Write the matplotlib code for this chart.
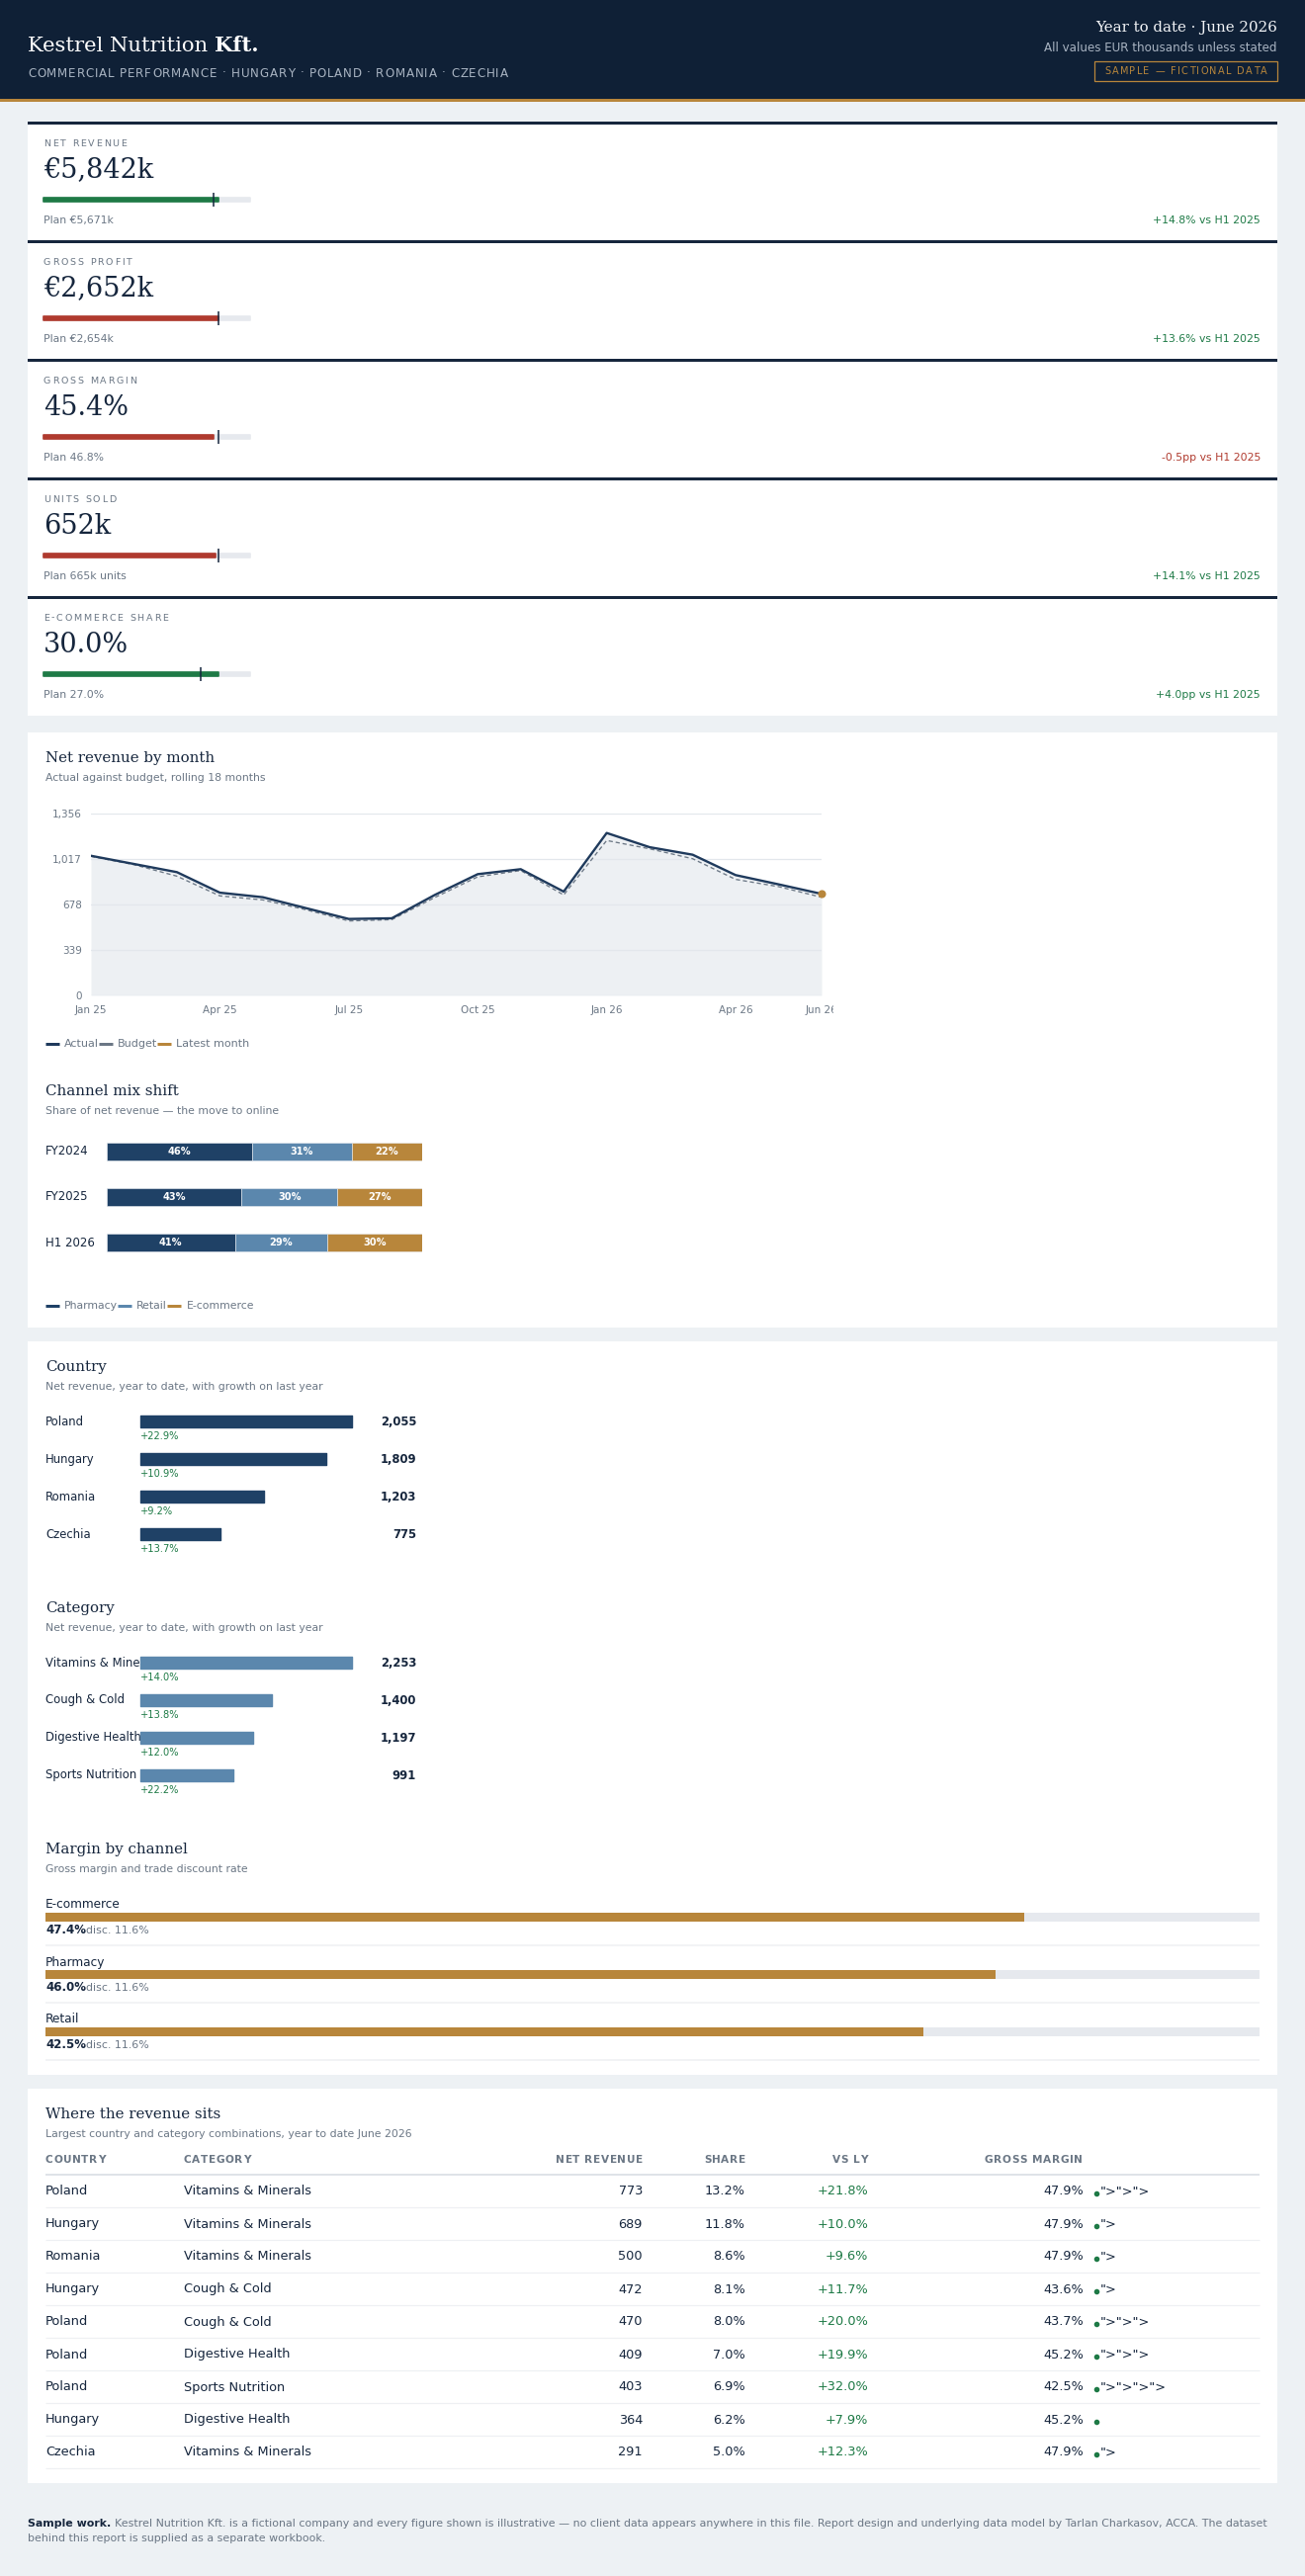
import matplotlib
matplotlib.use('Agg')
import numpy as np
import matplotlib.pyplot as plt
from matplotlib.patches import Rectangle
from matplotlib.lines import Line2D
from matplotlib.ft2font import FT2Font
from matplotlib.font_manager import findfont, FontProperties
from matplotlib.transforms import Bbox, TransformedBbox

# ---------------- data ----------------
kpi_labels = ["NET REVENUE", "GROSS PROFIT", "GROSS MARGIN", "UNITS SOLD", "E-COMMERCE SHARE"]
kpi_value_text = ["€5,842k", "€2,652k", "45.4%", "652k", "30.0%"]
kpi_actual = [5842, 2652, 45.4, 652, 30.0]
kpi_plan = [5671, 2654, 46.8, 665, 27.0]
kpi_plan_text = ["Plan €5,671k", "Plan €2,654k", "Plan 46.8%", "Plan 665k units", "Plan 27.0%"]
kpi_delta_text = ["+14.8% vs H1 2025", "+13.6% vs H1 2025", "-0.5pp vs H1 2025",
                  "+14.1% vs H1 2025", "+4.0pp vs H1 2025"]

months = ["Jan 25", "Feb 25", "Mar 25", "Apr 25", "May 25", "Jun 25", "Jul 25", "Aug 25", "Sep 25",
          "Oct 25", "Nov 25", "Dec 25", "Jan 26", "Feb 26", "Mar 26", "Apr 26", "May 26", "Jun 26"]
actual = [1041, 980, 919, 766, 732, 651, 570, 575, 749, 904, 941, 774, 1211, 1105, 1049, 897, 828, 757]
budget = [1037, 975, 889, 742, 712, 639, 555, 565, 730, 884, 931, 749, 1155, 1093, 1019, 865, 811, 732]
month_tick_idx = [0, 3, 6, 9, 12, 15, 17]
revenue_axis_max = 1356

mix_periods = ["FY2024", "FY2025", "H1 2026"]
mix_pharmacy = [46.2, 42.7, 40.6]
mix_retail = [31.4, 30.4, 29.4]
mix_ecom = [22.4, 26.9, 30.0]
mix_channels = ["Pharmacy", "Retail", "E-commerce"]

countries = ["Poland", "Hungary", "Romania", "Czechia"]
country_rev = [2055, 1809, 1203, 775]
country_growth = [22.9, 10.9, 9.2, 13.7]

categories = ["Vitamins & Minerals", "Cough & Cold", "Digestive Health", "Sports Nutrition"]
category_rev = [2253, 1400, 1197, 991]
category_growth = [14.0, 13.8, 12.0, 22.2]

margin_channels = ["E-commerce", "Pharmacy", "Retail"]
margin_pct = [47.4, 46.0, 42.5]
margin_disc = [11.6, 11.6, 11.6]
margin_axis_max = 58.8

tbl_country = ["Poland", "Hungary", "Romania", "Hungary", "Poland", "Poland", "Poland", "Hungary", "Czechia"]
tbl_category = ["Vitamins & Minerals", "Vitamins & Minerals", "Vitamins & Minerals", "Cough & Cold",
                "Cough & Cold", "Digestive Health", "Sports Nutrition", "Digestive Health", "Vitamins & Minerals"]
tbl_revenue = [773, 689, 500, 472, 470, 409, 403, 364, 291]
tbl_share = [13.2, 11.8, 8.6, 8.1, 8.0, 7.0, 6.9, 6.2, 5.0]
tbl_vsly = [21.8, 10.0, 9.6, 11.7, 20.0, 19.9, 32.0, 7.9, 12.3]
tbl_gm = [47.9, 47.9, 47.9, 43.6, 43.7, 45.2, 42.5, 45.2, 47.9]
tbl_suffix = ['">">">', '">', '">', '">', '">">">', '">">">', '">">">">', '', '">']

# ---------------- style ----------------
W, H = 1320, 2606
DPI = 100
SANS = 'DejaVu Sans'
SERIF = 'DejaVu Serif'
NAVY_BG = '#0f2036'
GOLD = '#b8863b'
PAGE = '#edf1f4'
INK = '#16263d'
MUTED = '#6b7785'
HEAD_MUTED = '#a9b4c2'
GREEN = '#1e7a46'
RED = '#b03a2e'
BAR_NAVY = '#1f4166'
LINE_NAVY = '#1f3a5c'
STEEL = '#5b87ad'
TRACK = '#e6e9ee'
SEP = '#eef0f3'

fig = plt.figure(figsize=(W / DPI, H / DPI), dpi=DPI, facecolor=PAGE)


def fx(x):
    return x / W


def fy(y):
    return 1 - y / H


def add_ax(x0, y0, x1, y1, off=True):
    ax = fig.add_axes([x0 / W, 1 - y1 / H, (x1 - x0) / W, (y1 - y0) / H])
    ax.patch.set_visible(False)
    ax.set_zorder(2)
    if off:
        ax.set_axis_off()
    return ax


def rect(x0, y0, x1, y1, fc, ec='none', lw=0, z=-5):
    fig.patches.append(Rectangle((fx(x0), fy(y1)), (x1 - x0) / W, (y1 - y0) / H,
                                 transform=fig.transFigure, facecolor=fc, edgecolor=ec,
                                 linewidth=lw, zorder=z))


def hline(x0, x1, y, color, lw_px, z=1):
    fig.add_artist(Line2D([fx(x0), fx(x1)], [fy(y), fy(y)], transform=fig.transFigure,
                          color=color, linewidth=lw_px * 0.72, zorder=z, solid_capstyle='butt'))


def txt(x, y, s, size, color=INK, ha='left', va='center', weight='normal', family=SANS, **kw):
    return fig.text(fx(x), fy(y), s, fontsize=size, color=color, ha=ha, va=va,
                    fontweight=weight, family=family, **kw)


_fonts = {}


def _font(family, weight):
    key = (family, weight)
    if key not in _fonts:
        _fonts[key] = FT2Font(findfont(FontProperties(family=family, weight=weight)))
    return _fonts[key]


def adv(ch, size, family=SANS, weight='normal'):
    f = _font(family, weight)
    f.set_size(size, DPI)
    g = f.load_char(ord(ch))
    return g.linearHoriAdvance / 65536


def twidth(s, size, family=SANS, weight='normal'):
    return sum(adv(c, size, family, weight) for c in s)


def spaced(x, y, s, size, color, spacing, weight='normal', family=SANS, ha='left'):
    ws = [adv(c, size, family, weight) for c in s]
    total = sum(ws) + spacing * (len(s) - 1)
    if ha == 'center':
        x -= total / 2
    elif ha == 'right':
        x -= total
    for c, w in zip(s, ws):
        if c != ' ':
            txt(x, y, c, size, color, weight=weight, family=family)
        x += w + spacing
    return total


def legend_row(x, y, labels, colors, size):
    for lab, col in zip(labels, colors):
        hline(x, x + 14, y, col, 3)
        x += 19
        txt(x, y, lab, size, MUTED)
        x += twidth(lab, size)


def panel_title(y, title, sub):
    txt(46, y, title, 10.8, INK, family=SERIF)
    txt(46, y + 20, sub, 7.85, MUTED)


# ---------------- header ----------------
rect(0, 0, W, 100, NAVY_BG)
rect(0, 100, W, 103, GOLD)
TS = 15.2
w1 = twidth("Kestrel Nutrition ", TS, SERIF)
txt(28, 46, "Kestrel Nutrition ", TS, '#ffffff', family=SERIF)
txt(28 + w1, 46, "Kft.", TS, '#ffffff', family=SERIF, weight='bold')
spaced(28, 74, "COMMERCIAL PERFORMANCE · HUNGARY · POLAND · ROMANIA · CZECHIA", 8.6, HEAD_MUTED, 0.8)
txt(1292, 28, "Year to date · June 2026", 10.8, '#f2f4f7', ha='right', family=SERIF)
txt(1292, 48, "All values EUR thousands unless stated", 8.6, HEAD_MUTED, ha='right')
rect(1107, 62, 1292, 82, 'none', ec=GOLD, lw=0.9, z=-3)
spaced(1199.5, 72, "SAMPLE — FICTIONAL DATA", 7.0, GOLD, 1.3, ha='center')

# ---------------- KPI cards ----------------
for i in range(len(kpi_labels)):
    T = 124 + 120 * i
    rect(28, T, 1292, T + 120, 'white')
    rect(28, T - 1, 1292, T + 1.6, INK, z=-4)
    spaced(44, T + 21, kpi_labels[i], 6.8, MUTED, 1.7)
    txt(44, T + 48, kpi_value_text[i], 19.5, INK, family=SERIF)
    txt(44, T + 99, kpi_plan_text[i], 7.8, MUTED)
    dcol = GREEN if kpi_delta_text[i].startswith('+') else RED
    txt(1275, T + 99, kpi_delta_text[i], 7.8, dcol, ha='right')
    a, p = kpi_actual[i], kpi_plan[i]
    fillc = GREEN if a >= p else RED
    xmax = max(a, p) * 1.18
    ax = add_ax(44, T + 71, 253, T + 85)
    ax.set_xlim(0, xmax)
    ax.set_ylim(-1, 1)
    ax.barh(0, xmax, height=0.5, color=TRACK, edgecolor=TRACK, linewidth=1.2,
            joinstyle='round', clip_on=False)
    ax.barh(0, a, height=0.5, color=fillc, edgecolor=fillc, linewidth=1.2,
            joinstyle='round', clip_on=False)
    ax.axvline(p, color=INK, linewidth=1.1)

# ---------------- panel 1: line chart + mix ----------------
rect(28, 741, 1292, 1343, 'white')
panel_title(767, "Net revenue by month", "Actual against budget, rolling 18 months")

ax = add_ax(92, 823, 831, 1007, off=False)
x = np.arange(len(months))
ax.fill_between(x, actual, 0, color='#edf0f3', linewidth=0, zorder=1)
ax.plot(x, budget, color=MUTED, linewidth=0.95, dashes=(3.2, 2.2), zorder=3)
ax.plot(x, actual, color=LINE_NAVY, linewidth=1.7, zorder=4, solid_joinstyle='round')
ax.scatter([x[-1]], [actual[-1]], s=34, color=GOLD, zorder=5, linewidths=0, clip_on=False)
ax.set_xlim(0, len(months) - 1)
ax.set_ylim(0, revenue_axis_max)
yt = np.linspace(0, revenue_axis_max, 5)
ax.set_yticks(yt, [f"{v:,.0f}" for v in yt])
ax.set_xticks(month_tick_idx, [months[k] for k in month_tick_idx])
for s in ax.spines.values():
    s.set_visible(False)
ax.grid(axis='y', color='#e3e7ec', linewidth=0.9, zorder=2)
ax.grid(axis='x', visible=False)
ax.tick_params(axis='both', length=0, labelsize=7.5, labelcolor=MUTED)
ax.tick_params(axis='y', pad=6.5)
ax.tick_params(axis='x', pad=7.5)
last_lab = ax.get_xticklabels()[-1]
last_lab.set_clip_box(TransformedBbox(Bbox([[0, 0], [843 / W, 1]]), fig.transFigure))
last_lab.set_clip_on(True)
legend_row(46, 1056, ["Actual", "Budget", "Latest month"], [LINE_NAVY, MUTED, GOLD], 8.0)

panel_title(1104, "Channel mix shift", "Share of net revenue — the move to online")
axm = add_ax(108, 1142, 427, 1280)
axm.set_xlim(0, 100)
axm.set_ylim(len(mix_periods) - 0.5, -0.5)
mix_cols = [BAR_NAVY, STEEL, GOLD]
left = np.zeros(len(mix_periods))
for vals, col in zip([mix_pharmacy, mix_retail, mix_ecom], mix_cols):
    vals = np.array(vals)
    axm.barh(np.arange(len(mix_periods)), vals, left=left, height=18 / 46, color=col,
             edgecolor='#e9edf1', linewidth=0.4)
    for j, v in enumerate(vals):
        axm.text(left[j] + v / 2, j, f"{v:.0f}%", ha='center', va='center', color='white',
                 fontsize=7.1, fontweight='bold', family=SANS)
    left = left + vals
for j, per in enumerate(mix_periods):
    txt(46, 1165 + 46 * j, per, 8.5, INK)
legend_row(46, 1321, mix_channels, mix_cols, 7.8)

# ---------------- panel 2: country / category / margin ----------------
rect(28, 1357, 1292, 2099, 'white')


def ranked_bars(y_title, title, sub, names, vals, growth, color, y0):
    panel_title(y_title, title, sub)
    n = len(names)
    axb = add_ax(142, y0 - 19, 356, y0 + 38 * (n - 1) + 19)
    axb.set_xlim(0, max(vals))
    axb.set_ylim(n - 0.5, -0.5)
    axb.barh(np.arange(n), vals, height=12 / 38, color=color, edgecolor=color, linewidth=1.0,
             joinstyle='round', zorder=3, clip_on=False)
    for j in range(n):
        axb.text(-96 / 214 * max(vals), j, names[j], ha='left', va='center', fontsize=8.4,
                 color=INK, family=SANS, zorder=1, clip_on=False)
        txt(421, y0 + 38 * j, f"{vals[j]:,}", 8.4, INK, ha='right', weight='bold')
        txt(142, y0 + 38 * j + 15, f"+{growth[j]:.1f}%", 7.1, GREEN)


ranked_bars(1383, "Country", "Net revenue, year to date, with growth on last year",
            countries, country_rev, country_growth, BAR_NAVY, 1438)
ranked_bars(1627, "Category", "Net revenue, year to date, with growth on last year",
            categories, category_rev, category_growth, STEEL, 1682)

panel_title(1871, "Margin by channel", "Gross margin and trade discount rate")
nm = len(margin_channels)
axg = add_ax(46, 1939.5 - 29, 1274, 1939.5 + 58 * (nm - 1) + 29)
axg.set_xlim(0, margin_axis_max)
axg.set_ylim(nm - 0.5, -0.5)
axg.barh(np.arange(nm), [margin_axis_max] * nm, height=9 / 58, color=TRACK)
axg.barh(np.arange(nm), margin_pct, height=9 / 58, color=GOLD)
for j in range(nm):
    yc = 1939.5 + 58 * j
    txt(46, yc - 12.5, margin_channels[j], 8.7, INK)
    vt = f"{margin_pct[j]:.1f}%"
    txt(46, yc + 13.5, vt, 8.5, INK, weight='bold')
    txt(46 + twidth(vt, 8.5, weight='bold') + 0.5, yc + 13.5, f"disc. {margin_disc[j]:.1f}%", 7.9, MUTED)
    hline(46, 1274, yc + 28.5, SEP, 1.5)

# ---------------- panel 3: table ----------------
rect(28, 2113, 1292, 2512, 'white')
panel_title(2139, "Where the revenue sits",
            "Largest country and category combinations, year to date June 2026")
hy = 2185
spaced(46, hy, "COUNTRY", 7.6, MUTED, 0.6, weight='bold')
spaced(186, hy, "CATEGORY", 7.6, MUTED, 0.6, weight='bold')
spaced(650, hy, "NET REVENUE", 7.6, MUTED, 0.6, weight='bold', ha='right')
spaced(754, hy, "SHARE", 7.6, MUTED, 0.6, weight='bold', ha='right')
spaced(878, hy, "VS LY", 7.6, MUTED, 0.6, weight='bold', ha='right')
spaced(996, hy, "GROSS MARGIN", 7.6, MUTED, 0.6, weight='bold')
hline(46, 1274, 2200, '#dfe3e8', 2)
for r in range(len(tbl_country)):
    y = 2217 + 33 * r
    txt(46, y, tbl_country[r], 9.3, INK)
    txt(186, y, tbl_category[r], 9.3, INK)
    txt(650, y, f"{tbl_revenue[r]:,}", 9.3, INK, ha='right')
    txt(754, y, f"{tbl_share[r]:.1f}%", 9.3, INK, ha='right')
    txt(878, y, f"+{tbl_vsly[r]:.1f}%", 9.3, GREEN, ha='right')
    txt(1096, y, f"{tbl_gm[r]:.1f}%", 9.3, INK, ha='right')
    fig.add_artist(Line2D([fx(1109)], [fy(y + 1.5)], marker='o', markersize=3.0, color=GREEN,
                          linestyle='none', transform=fig.transFigure))
    if tbl_suffix[r]:
        txt(1113, y, tbl_suffix[r], 9.3, INK)
    hline(46, 1274, y + 16, SEP, 1.2)

# ---------------- footer ----------------
FS = 7.95
fb = "Sample work."
txt(28, 2553, fb, FS, INK, weight='bold')
txt(28 + twidth(fb + " ", FS, weight='bold'), 2553,
    "Kestrel Nutrition Kft. is a fictional company and every figure shown is illustrative — no client "
    "data appears anywhere in this file. Report design and underlying data model by Tarlan Charkasov, "
    "ACCA. The dataset", FS, MUTED)
txt(28, 2568, "behind this report is supplied as a separate workbook.", FS, MUTED)

fig.savefig('out.png', dpi=DPI, facecolor=PAGE)
